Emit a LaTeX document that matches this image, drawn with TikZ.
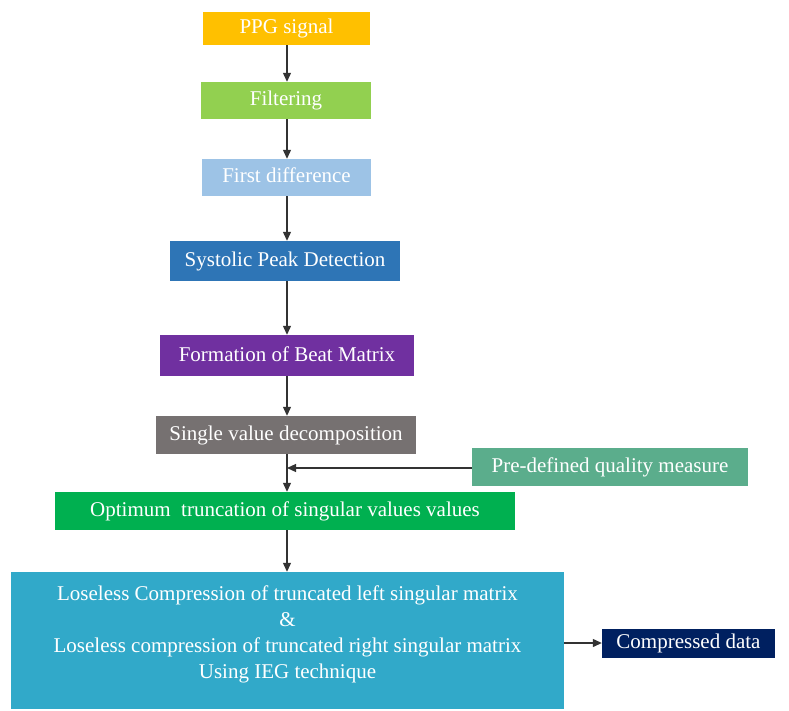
\documentclass[tikz,border=0pt]{standalone}
\usepackage{fontspec}
\setmainfont{Liberation Serif}
\usetikzlibrary{arrows.meta}
\definecolor{cPPG}{HTML}{FFC000}
\definecolor{cFilt}{HTML}{92D050}
\definecolor{cDiff}{HTML}{9DC3E6}
\definecolor{cSys}{HTML}{2E75B6}
\definecolor{cBeat}{HTML}{7030A0}
\definecolor{cSVD}{HTML}{767171}
\definecolor{cQual}{HTML}{5BAD8C}
\definecolor{cOut}{HTML}{002060}
\definecolor{cOpt}{HTML}{00B050}
\definecolor{cComp}{HTML}{31A9C9}
\begin{document}
\begin{tikzpicture}[x=1pt,y=-1pt,
  block/.style={draw=none, fill=#1, text=white, inner sep=0pt, align=center,
    font=\fontsize{21}{26}\selectfont},
  stage/.style={block=#1, text height=14pt, text depth=3pt},
  flow/.style={draw=black!80, line width=1.2pt, -{Triangle[length=9pt,width=8pt]}}]
\useasboundingbox (0,0) rectangle (789,711);
\node[stage=cPPG,  minimum width=167pt, minimum height=33pt] (ppg)  at (286.5,28.5) {PPG signal};
\node[stage=cFilt, minimum width=170pt, minimum height=37pt] (filt) at (286,100.5) {Filtering};
\node[stage=cDiff, minimum width=169pt, minimum height=37pt] (diff) at (286.5,177.5) {First difference};
\node[stage=cSys,  minimum width=230pt, minimum height=40pt] (sys)  at (285,261) {Systolic Peak Detection};
\node[stage=cBeat, minimum width=254pt, minimum height=41pt] (beat) at (287,355.5) {Formation of Beat Matrix};
\node[stage=cSVD,  minimum width=260pt, minimum height=38pt] (svd)  at (286,435) {Single value decomposition};
\node[stage=cQual, minimum width=276pt, minimum height=38pt] (qual) at (610,467) {Pre-defined quality measure};
\node[stage=cOpt,  minimum width=460pt, minimum height=38pt] (opt)  at (285,511) {Optimum\ \ truncation of singular values values};
\node[block=cComp, minimum width=553pt, minimum height=137pt] (comp) at (287.5,640.5)
  {Loseless Compression of truncated left singular matrix\\ \&\\
   Loseless compression of truncated right singular matrix\\ Using IEG technique\\[-10pt]\mbox{}};
\node[stage=cOut,  minimum width=173pt, minimum height=29pt] (out)  at (688.5,643) {Compressed data};
\coordinate (join) at (287,468);
\draw[flow] (ppg.south -| 287,0) -- (filt.north -| 287,0);
\draw[flow] (filt.south -| 287,0) -- (diff.north -| 287,0);
\draw[flow] (diff.south -| 287,0) -- (sys.north -| 287,0);
\draw[flow] (sys.south -| 287,0) -- (beat.north -| 287,0);
\draw[flow] (beat.south -| 287,0) -- (svd.north -| 287,0);
\draw[flow] (svd.south -| 287,0) -- (opt.north -| 287,0);
\draw[flow] (qual.west |- join) -- (join);
\draw[flow] (opt.south -| 287,0) -- (comp.north -| 287,0);
\draw[flow] (comp.east |- out.west) -- (out.west);
\end{tikzpicture}
\end{document}
